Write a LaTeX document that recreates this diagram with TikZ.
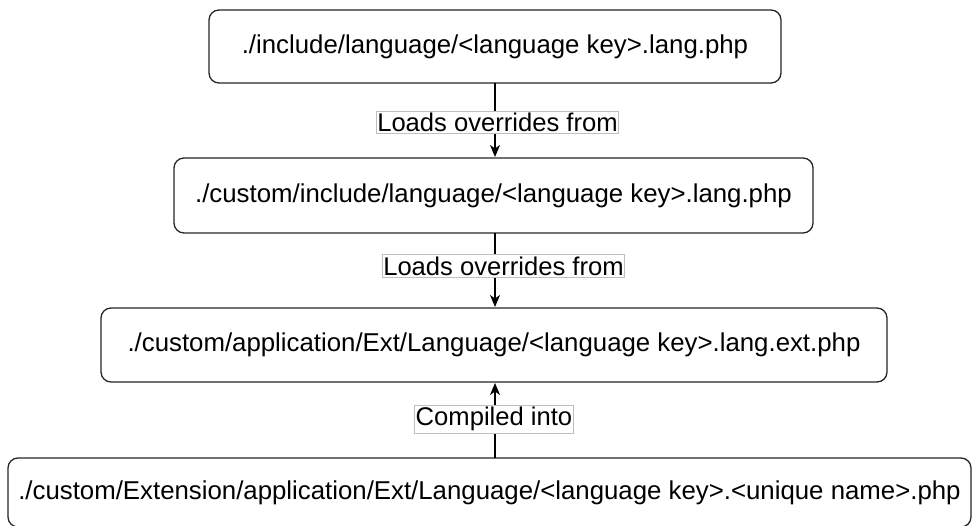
\documentclass[tikz,border=0pt]{standalone}
\usepackage{fontspec}
\setmainfont{Liberation Sans}
\usetikzlibrary{arrows.meta}
\tikzset{
  filebox/.style={draw=black!85, line width=1.3pt, rounded corners=10pt, fill=white,
    inner sep=0pt, font=\fontsize{25.8}{30}\selectfont, text=black},
  edgelabel/.style={draw=black!25, line width=0.8pt, fill=white, inner xsep=1pt, inner ysep=2pt,
    font=\fontsize{25.6}{30}\selectfont, text=black},
  conn/.style={draw=black, line width=1.2pt, -{Stealth[length=12pt,width=10pt,inset=3.5pt]}},
}
\begin{document}
\begin{tikzpicture}[x=1pt,y=-1pt]
\useasboundingbox (0,0) rectangle (973,526);
\begin{scope}
\clip (0,0) rectangle (973,526);
\node[filebox, minimum width=572pt, minimum height=73pt] (b1) at (495,46.5) {./include/language/<language key>.lang.php};
\node[filebox, minimum width=639pt, minimum height=75pt] (b2) at (493.5,195.5) {./custom/include/language/<language key>.lang.php};
\node[filebox, minimum width=786pt, minimum height=74pt] (b3) at (494,345) {./custom/application/Ext/Language/<language key>.lang.ext.php};
\node[filebox, minimum width=963pt, minimum height=69pt] (b4) at (489.5,492.5) {./custom/Extension/application/Ext/Language/<language key>.<unique name>.php};
\end{scope}
\coordinate (s1) at (495,83);
\coordinate (e1) at (495,157);
\coordinate (s2) at (495,233);
\coordinate (e2) at (495,307);
\coordinate (s3) at (495,458);
\coordinate (e3) at (495,383);
\draw[conn] (s1) -- (e1);
\draw[conn] (s2) -- (e2);
\draw[conn] (s3) -- (e3);
\node[edgelabel] (l1) at (497.5,122.5) {Loads overrides from};
\node[edgelabel] (l2) at (503.5,266) {Loads overrides from};
\node[edgelabel] (l3) at (494,419) {Compiled into};
\end{tikzpicture}
\end{document}
